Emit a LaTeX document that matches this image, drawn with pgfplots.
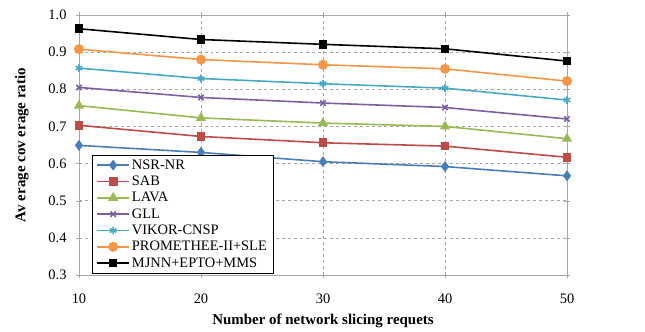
\documentclass[border=0pt]{standalone}
\usepackage{pgfplots}
\pgfplotsset{compat=1.18}
\usepackage{fontspec}
\setmainfont{Liberation Serif}
\usetikzlibrary{calc}

\definecolor{xblue}{HTML}{4A7EBB}
\definecolor{xred}{HTML}{BE4B48}
\definecolor{xgreen}{HTML}{98B954}
\definecolor{xpurple}{HTML}{7D60A0}
\definecolor{xcyan}{HTML}{46AAC5}
\definecolor{xorange}{HTML}{F79646}

\begin{document}
\begin{tikzpicture}
\begin{axis}[
  scale only axis,
  width=488bp, height=260bp,
  xmin=10, xmax=50, ymin=0.3, ymax=1.0,
  xtick={10,20,30,40,50},
  ytick={0.3,0.4,...,1.0},
  /pgf/number format/assume math mode=true,
  tick label style={font=\fontsize{14.5}{16}\selectfont},
  yticklabel style={xshift=-6bp, /pgf/number format/.cd, fixed, fixed zerofill, precision=1},
  xticklabel style={yshift=-12bp},
  xlabel={\textbf{Number of network slicing requets}},
  ylabel={\textbf{Av erage cov erage ratio}},
  label style={font=\fontsize{15}{17}\selectfont},
  xlabel style={at={(axis description cs:0.5,-0.178)}, anchor=center},
  ylabel style={at={(axis description cs:-0.117,0.5)}, anchor=center},
  axis line style={gray!70},
  tick style={gray!70, major tick length=6bp},
  tick align=center,
  grid=major,
  major grid style={gray!70, dashed, line width=0.6pt},
  legend style={at={(0.027,0.008)}, anchor=south west, draw=black,
    font=\fontsize{14.5}{15.5}\selectfont, row sep=1.3bp, inner xsep=4bp, inner ysep=2bp,
    cells={anchor=west}},
  legend image code/.code={%
    \draw[mark repeat=2, mark phase=2] plot coordinates {(0bp,0bp) (16bp,0bp) (32bp,0bp)};},
  every axis plot/.append style={line width=1.6pt, mark options={solid}},
]
\addplot[xblue, mark=diamond*, mark size=4.2pt] coordinates {(10,0.649) (20,0.630) (30,0.605) (40,0.592) (50,0.567)};
\addlegendentry{NSR-NR}
\addplot[xred, mark=square*, mark size=3.6pt] coordinates {(10,0.703) (20,0.673) (30,0.656) (40,0.647) (50,0.617)};
\addlegendentry{SAB}
\addplot[xgreen, mark=triangle*, mark size=4.3pt] coordinates {(10,0.756) (20,0.723) (30,0.709) (40,0.700) (50,0.667)};
\addlegendentry{LAVA}
\addplot[xpurple, mark=x, mark size=3.8pt] coordinates {(10,0.805) (20,0.778) (30,0.763) (40,0.751) (50,0.720)};
\addlegendentry{GLL}
\addplot[xcyan, mark=asterisk, mark size=3.8pt] coordinates {(10,0.857) (20,0.829) (30,0.815) (40,0.803) (50,0.771)};
\addlegendentry{VIKOR-CNSP}
\addplot[xorange, mark=*, mark size=4.2pt] coordinates {(10,0.908) (20,0.880) (30,0.866) (40,0.855) (50,0.822)};
\addlegendentry{PROMETHEE-II+SLE}
\addplot[black, mark=square*, mark size=3.5pt] coordinates {(10,0.963) (20,0.934) (30,0.921) (40,0.909) (50,0.876)};
\addlegendentry{MJNN+EPTO+MMS}
\end{axis}
\path ($(current axis.south west)+(-79bp,-57bp)$) rectangle ($(current axis.north east)+(78bp,15bp)$);
\end{tikzpicture}
\end{document}
